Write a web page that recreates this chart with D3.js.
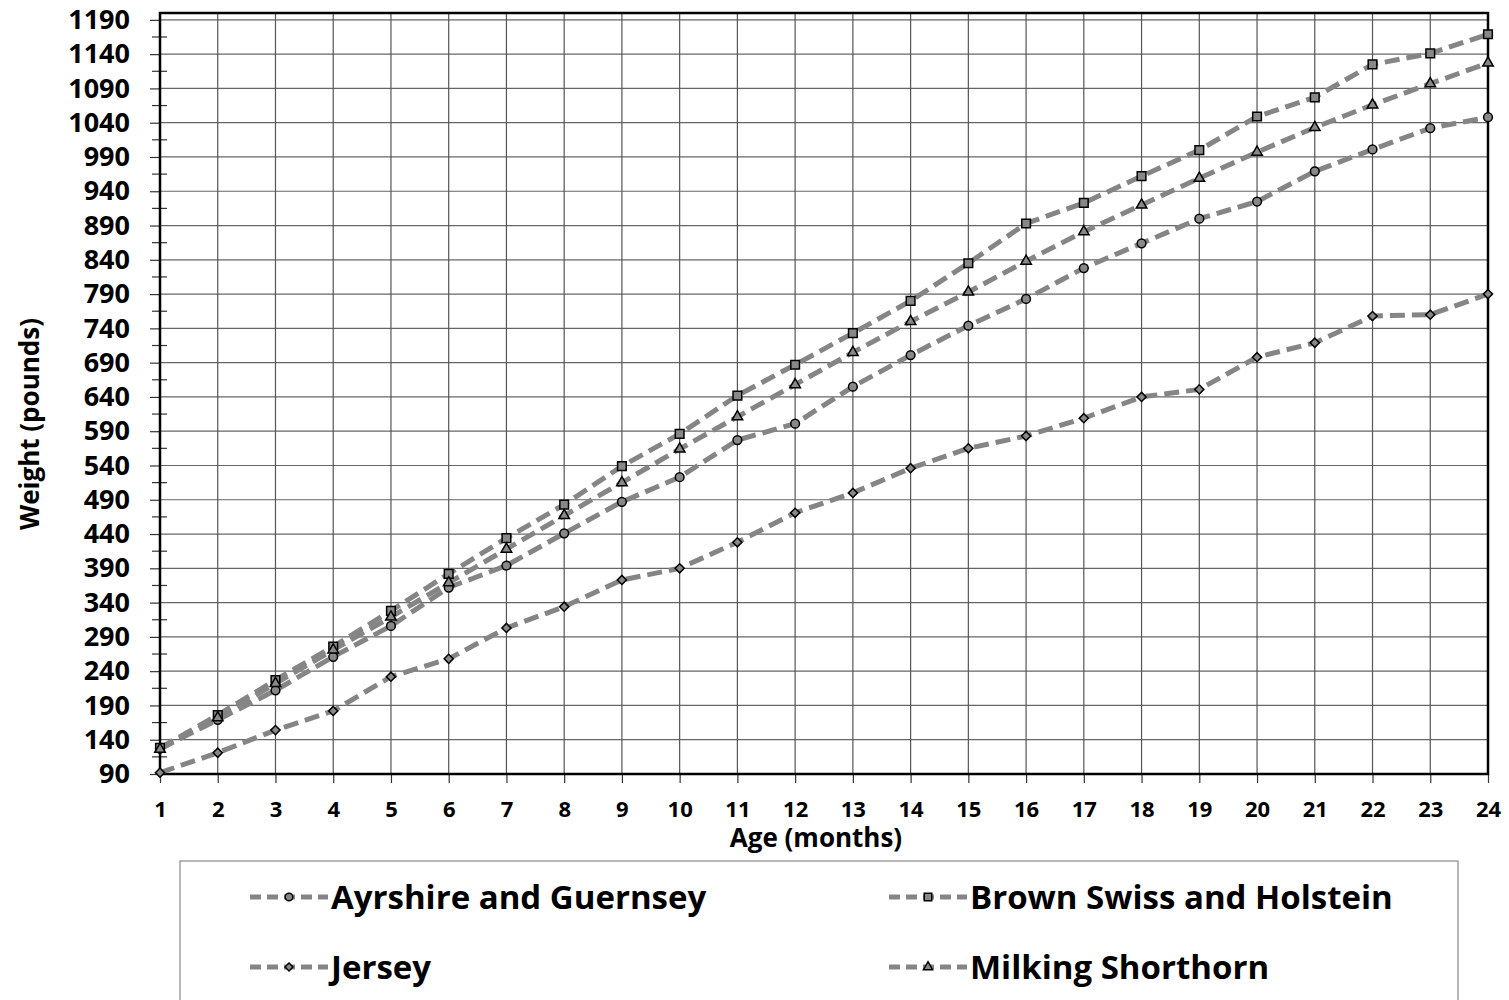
<!DOCTYPE html>
<html>
<head>
<meta charset="utf-8">
<script src="https://cdn.jsdelivr.net/npm/d3@7"></script>
<style>
  body { margin: 0; background: #fff; }
  text { font-family: "Open Sans", sans-serif; font-weight: bold; fill: #000; }
</style>
</head>
<body>
<div id="chart"></div>
<script>
// weights (pounds) by age in months
var months = d3.range(1, 25);
var ayrshire = [127, 169, 212, 261, 306, 362, 394, 441, 487, 523, 577, 601, 655, 701, 744, 783, 828, 864, 900, 925, 969, 1001, 1032, 1048];
var brownSwiss = [128, 176, 227, 276, 328, 382, 434, 483, 539, 586, 642, 687, 733, 780, 835, 893, 923, 962, 1000, 1049, 1077, 1125, 1141, 1169];
var jersey = [92, 121, 154, 182, 232, 258, 303, 334, 373, 390, 428, 471, 500, 536, 565, 583, 609, 640, 651, 698, 719, 758, 760, 790];
var milking = [126, 172, 222, 271, 319, 369, 418, 467, 515, 564, 611, 658, 705, 750, 793, 838, 881, 920, 959, 997, 1033, 1066, 1097, 1127];
var seriesNames = ["Ayrshire and Guernsey", "Brown Swiss and Holstein", "Jersey", "Milking Shorthorn"];
var yTicks = d3.range(90, 1191, 50);
var yMinor = d3.range(115, 1200, 50);

var W = 1509, H = 1000;
var plotLeft = 160, plotRight = 1488, plotTop = 13, plotBottom = 774;

var svg = d3.select("#chart").append("svg")
    .attr("width", W).attr("height", H);

var x = d3.scaleLinear().domain([1, 24]).range([plotLeft, plotRight]);
var y = d3.scaleLinear().domain([90, 1200]).range([plotBottom, plotTop]);

// grid
svg.append("g").selectAll("line").data(yTicks).enter().append("line")
    .attr("x1", plotLeft).attr("x2", plotRight)
    .attr("y1", function (d) { return y(d); }).attr("y2", function (d) { return y(d); })
    .style("stroke", "#666").style("stroke-width", 1.2);

svg.append("g").selectAll("line").data(months).enter().append("line")
    .attr("x1", function (d) { return x(d); }).attr("x2", function (d) { return x(d); })
    .attr("y1", plotTop).attr("y2", plotBottom)
    .style("stroke", "#555").style("stroke-width", 1.2);

// y axis
var yAxis = d3.axisLeft(y).tickValues(yTicks).tickFormat(d3.format("d")).tickSize(10).tickPadding(20);
var ya = svg.append("g").attr("transform", "translate(" + plotLeft + ",0)").call(yAxis);
ya.select(".domain").remove();
ya.selectAll(".tick line").style("stroke", "#333").style("stroke-width", 1.2);
ya.selectAll("text").style("font-size", "27px").style("font-family", "Open Sans").style("font-weight", "bold").style("fill", "#000");

svg.append("g").selectAll("line").data(yMinor).enter().append("line")
    .attr("x1", plotLeft - 8).attr("x2", plotLeft + 7)
    .attr("y1", function (d) { return y(d); }).attr("y2", function (d) { return y(d); })
    .style("stroke", "#333").style("stroke-width", 1.2);

// x axis
var xAxis = d3.axisBottom(x).tickValues(months).tickSize(9).tickPadding(18);
var xa = svg.append("g").attr("transform", "translate(0," + plotBottom + ")").call(xAxis);
xa.select(".domain").remove();
xa.selectAll(".tick line").style("stroke", "#333").style("stroke-width", 1.2);
xa.selectAll("text").style("font-size", "22px").style("font-family", "Open Sans").style("font-weight", "bold").style("fill", "#000");

// frame
svg.append("rect")
    .attr("x", plotLeft).attr("y", plotTop)
    .attr("width", plotRight - plotLeft).attr("height", plotBottom - plotTop)
    .style("fill", "none").style("stroke", "#000").style("stroke-width", 2.5);

// titles
svg.append("text")
    .attr("x", 816).attr("y", 847)
    .attr("text-anchor", "middle")
    .style("font-size", "26px")
    .text("Age (months)");

svg.append("text")
    .attr("transform", "translate(39,424) rotate(-90)")
    .attr("text-anchor", "middle")
    .style("font-size", "26px")
    .text("Weight (pounds)");

// series
var symbols = [d3.symbolCircle, d3.symbolSquare, d3.symbolSquare, d3.symbolTriangle];
var sizes = [60, 75, 42, 48];
var rotations = [0, 0, 45, 0];
var allSeries = [ayrshire, brownSwiss, jersey, milking];

var line = d3.line()
    .x(function (d, i) { return x(months[i]); })
    .y(function (d) { return y(d); });

for (var s = 0; s < allSeries.length; s++) {
    svg.append("path")
        .attr("d", line(allSeries[s]))
        .style("fill", "none")
        .style("stroke", "#858585")
        .style("stroke-width", 5)
        .style("stroke-dasharray", "15,7");
}

allSeries.forEach(function (series, s) {
    var sym = d3.symbol().type(symbols[s]).size(sizes[s]);
    svg.append("g").selectAll("path").data(series).enter().append("path")
        .attr("d", sym)
        .attr("transform", function (d, i) {
            return "translate(" + x(months[i]) + "," + y(d) + ") rotate(" + rotations[s] + ")";
        })
        .style("fill", "#888")
        .style("stroke", "#000")
        .style("stroke-width", 1.5);
});

// legend
svg.append("rect")
    .attr("x", 180).attr("y", 861)
    .attr("width", 1278).attr("height", 170)
    .style("fill", "none").style("stroke", "#888").style("stroke-width", 1.2);

var legendPos = [[289, 897], [928, 897], [289, 967], [928, 967]];

for (var s = 0; s < seriesNames.length; s++) {
    var lx = legendPos[s][0], ly = legendPos[s][1];
    svg.append("line")
        .attr("x1", lx - 39).attr("x2", lx + 39)
        .attr("y1", ly).attr("y2", ly)
        .style("stroke", "#858585").style("stroke-width", 5)
        .style("stroke-dasharray", "11,6");
    svg.append("path")
        .attr("d", d3.symbol().type(symbols[s]).size(sizes[s] * 0.75)())
        .attr("transform", "translate(" + lx + "," + ly + ") rotate(" + rotations[s] + ")")
        .style("fill", "#888").style("stroke", "#000").style("stroke-width", 1.5);
    svg.append("text")
        .attr("x", lx + 42).attr("y", ly)
        .attr("dy", "0.36em")
        .style("font-size", "33px")
        .text(seriesNames[s]);
}
</script>
</body>
</html>
